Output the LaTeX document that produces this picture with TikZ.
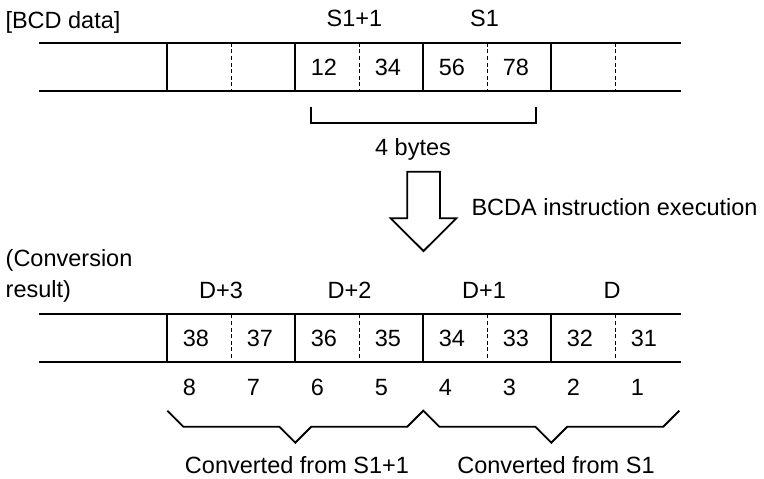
\documentclass[tikz,border=0pt]{standalone}
\usepackage{fontspec}
\setmainfont{Liberation Sans}
\begin{document}
\begin{tikzpicture}[x=1pt,y=-1pt,
  every node/.style={inner sep=0pt,outer sep=0pt,font=\fontsize{23.5}{28}\selectfont},
  rule/.style={line width=1.8pt},
  dsh/.style={line width=1.6pt,dash pattern=on 4pt off 2.6pt},
  lbl/.style={anchor=base},
  lblw/.style={anchor=base west}]
\useasboundingbox (0,0) rectangle (764,479);
% ---------- top table ----------
\draw[rule] (39.3,42.7) -- (681,42.7);
\draw[rule] (39.3,90.7) -- (681,90.7);
\foreach \i in {0,2,4,6} \draw[rule] (167.3+\i*64,42.7) -- (167.3+\i*64,90.7);
\foreach \i in {1,3,5,7} \draw[dsh] (167.3+\i*64,42.7) -- (167.3+\i*64,90.7);
\foreach \t [count=\i from 2] in {12,34,56,78}
  \node[lblw] (top\i) at (167.3+\i*64+15.5,75) {\t};
\node[lblw] (bcd) at (5.5,28.3) {[BCD data]};
\node[lbl] (s1p) at (354.5,26.7) {S1+1};
\node[lbl] (s1) at (484.5,26.7) {S1};
% bracket
\draw[rule] (311,106.7) -- (311,122.7) -- (536,122.7) -- (536,106.7);
\node[lbl] (bytes) at (413,155) {4 bytes};
% ---------- arrow ----------
\draw[rule] (407.3,171.7) -- (407.3,218.3) -- (390.7,218.3) -- (423.5,251)
  -- (456.3,218.3) -- (440,218.3) -- (440,171.7) -- cycle;
\node[lblw] (exec) at (471.5,215) {BCDA instruction execution};
% ---------- bottom table ----------
\node[lblw] (conv1) at (5.7,266) {(Conversion};
\node[lblw] (conv2) at (5.7,297.5) {result)};
\node[lbl] (d3) at (221,298.5) {D+3};
\node[lbl] (d2) at (349.5,298.5) {D+2};
\node[lbl] (d1) at (484,298.5) {D+1};
\node[lbl] (d0) at (612,298.5) {D};
\draw[rule] (39.3,314.3) -- (681,314.3);
\draw[rule] (39.3,362.3) -- (681,362.3);
\foreach \i in {0,2,4,6} \draw[rule] (167.3+\i*64,314.3) -- (167.3+\i*64,362.3);
\foreach \i in {1,3,5,7} \draw[dsh] (167.3+\i*64,314.3) -- (167.3+\i*64,362.3);
\foreach \t [count=\i from 0] in {38,37,36,35,34,33,32,31}
  \node[lblw] (bot\i) at (167.3+\i*64+15.5,346.7) {\t};
\foreach \t [count=\i from 0] in {8,7,6,5,4,3,2,1}
  \node[lblw] (dig\i) at (167.3+\i*64+15.5,395) {\t};
% braces
\draw[rule] (167.3,410.7) -- (183.3,426.7) -- (279.3,426.7) -- (295.3,442.7)
  -- (311.3,426.7) -- (407.3,426.7) -- (423.3,410.7) -- (439.3,426.7)
  -- (535.3,426.7) -- (551.3,442.7) -- (567.3,426.7) -- (663.3,426.7)
  -- (679.3,410.7);
\node[lbl] (cf1) at (297,473.5) {Converted from S1+1};
\node[lbl] (cf0) at (556,473.5) {Converted from S1};
\end{tikzpicture}
\end{document}
